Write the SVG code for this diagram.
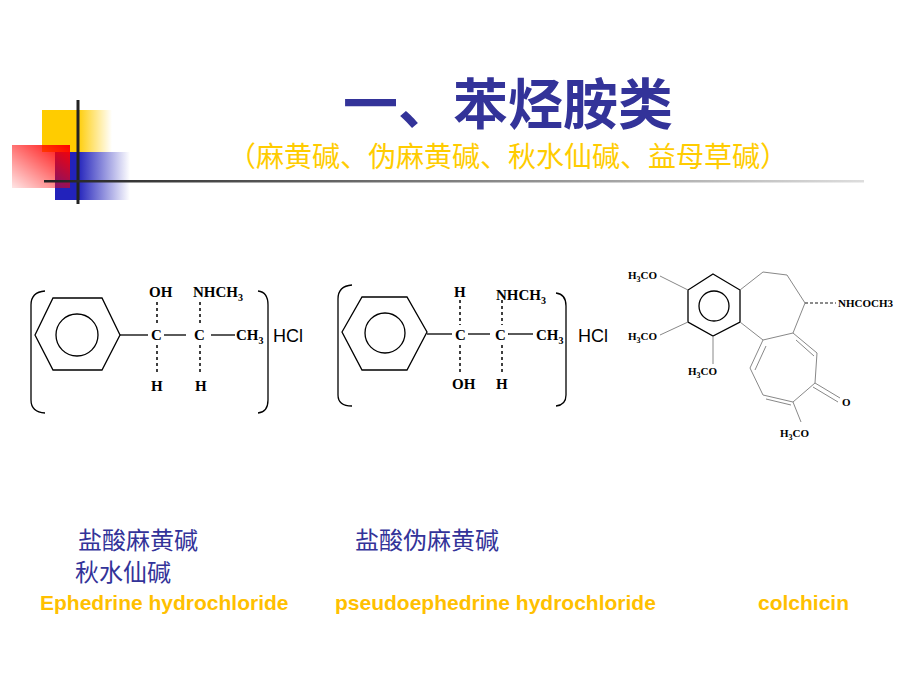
<svg xmlns="http://www.w3.org/2000/svg" width="920" height="690" viewBox="0 0 920 690">
<defs>
<linearGradient id="gy" x1="0" x2="1" y1="0" y2="0"><stop offset="0.5" stop-color="#FFCC00"/><stop offset="1" stop-color="#FFCC00" stop-opacity="0"/></linearGradient>
<linearGradient id="gr" x1="1" x2="0" y1="0" y2="1"><stop offset="0" stop-color="#FF0000"/><stop offset="1" stop-color="#FF0000" stop-opacity="0.1"/></linearGradient>
<linearGradient id="gb" x1="0" x2="1" y1="0" y2="0"><stop offset="0.3" stop-color="#2222BB"/><stop offset="1" stop-color="#2222BB" stop-opacity="0"/></linearGradient>
<linearGradient id="gl" x1="0" x2="1" y1="0" y2="0"><stop offset="0" stop-color="#222"/><stop offset="1" stop-color="#ddd"/></linearGradient>
<style>
.b{fill:none;stroke:#000;stroke-width:1.3}
.g{fill:none;stroke:#888;stroke-width:1}
.d{stroke:#000;stroke-width:1.5;stroke-dasharray:3,3}
.t{font-family:"Liberation Serif",serif;font-size:15px;font-weight:bold;fill:#000}
.s{font-family:"Liberation Serif",serif;font-size:11px;font-weight:bold;fill:#000}
.h{font-family:"Liberation Sans",sans-serif;font-size:18px;fill:#000}
.cn{font-family:"Noto Sans CJK SC",sans-serif;font-size:24px;fill:#333399}
.en{font-family:"Liberation Sans",sans-serif;font-size:21px;font-weight:bold;fill:#FFC000}
</style>
</defs>
<g id="logo">
<rect x="42" y="110" width="70" height="42" fill="url(#gy)"/>
<rect x="55" y="152" width="75" height="48" fill="url(#gb)"/>
<rect x="12" y="145" width="58" height="43" fill="url(#gr)"/>
<line x1="78" y1="100" x2="78" y2="204" stroke="#222" stroke-width="3"/>
<rect x="44" y="180" width="820" height="2.5" fill="url(#gl)"/>
</g>
<g id="title">
<text x="508" y="124" text-anchor="middle" font-family="Noto Sans CJK SC,sans-serif" font-size="55" font-weight="bold" fill="#333399">一、苯烃胺类</text>
<text x="508" y="167" text-anchor="middle" font-family="Noto Sans CJK SC,sans-serif" font-size="28" fill="#FFCC00">（麻黄碱、伪麻黄碱、秋水仙碱、益母草碱）</text>
</g>
<g id="ephedrine">
<path class="b" d="M45,291 Q31,292 31,305 L31,400 Q31,412 45,413"/>
<path class="b" d="M258,291 Q268,292 268,305 L268,400 Q268,412 258,413"/>
<polygon class="b" points="35,335 53,298 102,298 120,335 102,370 53,370"/>
<circle class="b" cx="77" cy="335" r="21"/>
<line class="b" x1="120" y1="335" x2="148" y2="335"/>
<line class="b" x1="164" y1="335" x2="186" y2="335"/>
<line class="b" x1="211" y1="335" x2="235" y2="335"/>
<line class="d" x1="157" y1="302" x2="157" y2="326"/>
<line class="d" x1="157" y1="345" x2="157" y2="373"/>
<line class="d" x1="200" y1="302" x2="200" y2="326"/>
<line class="d" x1="200" y1="345" x2="200" y2="373"/>
<text class="t" x="149" y="297">OH</text>
<text class="t" x="193" y="297">NHCH<tspan font-size="10" dy="4">3</tspan></text>
<text class="t" x="151" y="340">C</text>
<text class="t" x="194" y="340">C</text>
<text class="t" x="236" y="340">CH<tspan font-size="10" dy="4">3</tspan></text>
<text class="t" x="151" y="391">H</text>
<text class="t" x="195" y="391">H</text>
<text class="h" x="273" y="342">HCl</text>
</g>
<g id="pseudoephedrine">
<path class="b" d="M352,285 Q338,286 338,299 L338,395 Q338,406 352,406"/>
<path class="b" d="M556,293 Q566,294 566,306 L566,395 Q566,405 556,406"/>
<polygon class="b" points="342,332 362,297 407,297 427,332 407,370 362,370"/>
<circle class="b" cx="385" cy="333" r="20"/>
<line class="b" x1="427" y1="334" x2="452" y2="334"/>
<line class="b" x1="468" y1="334" x2="490" y2="334"/>
<line class="b" x1="508" y1="334" x2="533" y2="334"/>
<line class="d" x1="460" y1="300" x2="460" y2="325"/>
<line class="d" x1="460" y1="345" x2="460" y2="372"/>
<line class="d" x1="502" y1="300" x2="502" y2="325"/>
<line class="d" x1="502" y1="345" x2="502" y2="372"/>
<text class="t" x="454" y="297">H</text>
<text class="t" x="496" y="300">NHCH<tspan font-size="10" dy="4">3</tspan></text>
<text class="t" x="455" y="340">C</text>
<text class="t" x="495" y="340">C</text>
<text class="t" x="536" y="340">CH<tspan font-size="10" dy="4">3</tspan></text>
<text class="t" x="452" y="389">OH</text>
<text class="t" x="496" y="389">H</text>
<text class="h" x="578" y="342">HCl</text>
</g>
<g id="colchicine">
<polygon class="b" points="713,274 740,290 740,322 713,336 688,322 688,290" stroke-width="1.2"/>
<circle class="b" cx="714" cy="306" r="15" stroke-width="1"/>
<line class="g" x1="660" y1="276" x2="688" y2="290"/>
<line class="g" x1="660" y1="335" x2="688" y2="322"/>
<line class="g" x1="713" y1="336" x2="713" y2="364"/>
<polyline class="g" points="740,290 763,272 787,275 805,303 793,333 763,340 740,322"/>
<line x1="805" y1="303" x2="836" y2="303" stroke="#666" stroke-width="1.5" stroke-dasharray="3,2"/>
<polyline class="g" points="793,333 817,353 815,383 793,402 763,395 750,368 763,340"/>
<line class="g" x1="755" y1="370" x2="766" y2="346"/>
<line class="g" x1="796" y1="340" x2="814" y2="356"/>
<line class="g" x1="766" y1="399" x2="791" y2="405"/>
<line class="g" x1="815" y1="383" x2="840" y2="398"/>
<line class="g" x1="813" y1="387" x2="838" y2="402"/>
<line class="g" x1="793" y1="402" x2="801" y2="422"/>
<text class="s" x="628" y="279">H<tspan font-size="8" dy="3">3</tspan><tspan dy="-3">CO</tspan></text>
<text class="s" x="628" y="340">H<tspan font-size="8" dy="3">3</tspan><tspan dy="-3">CO</tspan></text>
<text class="s" x="688" y="375">H<tspan font-size="8" dy="3">3</tspan><tspan dy="-3">CO</tspan></text>
<text class="s" x="780" y="437">H<tspan font-size="8" dy="3">3</tspan><tspan dy="-3">CO</tspan></text>
<text class="s" x="838" y="307">NHCOCH3</text>
<text class="s" x="842" y="406">O</text>
</g>
<g id="labels">
<text class="cn" x="78" y="549">盐酸麻黄碱</text>
<text class="cn" x="355" y="549">盐酸伪麻黄碱</text>
<text class="cn" x="75" y="581">秋水仙碱</text>
<text class="en" x="40" y="610">Ephedrine hydrochloride</text>
<text class="en" x="335" y="610">pseudoephedrine hydrochloride</text>
<text class="en" x="758" y="610">colchicin</text>
</g>
</svg>
